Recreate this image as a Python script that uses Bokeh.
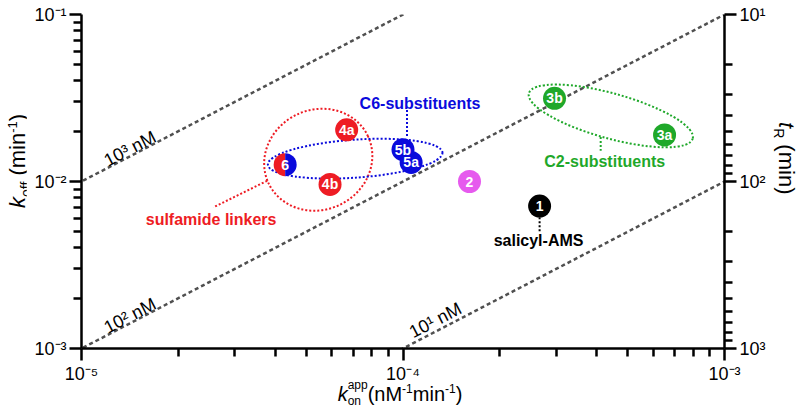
import math
from bokeh.plotting import figure
from bokeh.layouts import row, column
from bokeh.models import (Range1d, LogScale, LogAxis, FixedTicker, Div,
                          CustomJSTickFormatter, Label, ColumnDataSource)
from bokeh.core.properties import value
from bokeh.embed import file_html
from bokeh.resources import INLINE

# ---------------- data ----------------
compounds = ["1", "2", "3a", "3b", "4a", "4b", "5b", "5a", "6"]
kon_app = [2.66e-4, 1.61e-4, 6.51e-4, 2.96e-4, 6.68e-5, 5.93e-5, 1.00e-4, 1.06e-4, 4.30e-5]
koff = [7.13e-3, 1.00e-2, 1.90e-2, 3.15e-2, 2.04e-2, 9.6e-3, 1.55e-2, 1.30e-2, 1.26e-2]
point_colors = ["#000000", "#E65AEE", "#1FA82A", "#1FA82A", "#EE1C24", "#EE1C24",
                "#0A0ADC", "#0A0ADC", "split"]

kd_values = [1000, 100, 10]                       # nM iso-affinity lines
kd_labels = ["10³ nM", "10² nM", "10¹ nM"]
kd_label_kon = [1.21e-5, 1.21e-5, 1.09e-4]

group_names = ["sulfamide linkers", "C6-substituents", "C2-substituents", "salicyl-AMS"]
group_colors = ["#EE1C24", "#0A0ADC", "#1FA82A", "#000000"]
group_label_kon = [2.53e-5, 1.13e-4, 4.24e-4, 2.64e-4]
group_label_koff = [5.94e-3, 2.95e-2, 1.31e-2, 4.46e-3]
conn_kon0 = [3.78e-5, 1.029e-4, 4.12e-4, 2.66e-4]
conn_koff0 = [1.01e-2, 2.68e-2, 1.85e-2, 6.11e-3]
conn_kon1 = [2.57e-5, 1.029e-4, 4.12e-4, 2.66e-4]
conn_koff1 = [7.0e-3, 1.85e-2, 1.53e-2, 5.04e-3]

ell_kon = [5.45e-5, 7.10e-5, 4.43e-4]
ell_koff = [1.35e-2, 1.37e-2, 2.47e-2]
ell_colors = ["#EE1C24", "#0A0ADC", "#1FA82A"]

x_major = [1e-5, 1e-4, 1e-3]
x_tick_labels = ["10⁻⁵", "10⁻⁴", "10⁻³"]
x_minor = [m * d for d in (1e-5, 1e-4) for m in range(2, 10)]
y_major = [1e-3, 1e-2, 1e-1]
y_tick_labels = ["10⁻³", "10⁻²", "10⁻¹"]
y_minor = [m * d for d in (1e-3, 1e-2) for m in range(2, 10)]
tr_major = [10, 100, 1000]
tr_tick_labels = ["10¹", "10²", "10³"]
tr_minor = [m * d for d in (10, 100) for m in range(2, 10)]

FONT = "Liberation Sans"

# ---------------- figure ----------------
p = figure(width=742, height=386, x_axis_type="log", y_axis_type="log",
           x_range=Range1d(1e-5, 1e-3), y_range=Range1d(1e-3, 1e-1),
           output_backend="svg", toolbar_location=None,
           min_border_left=55, min_border_right=43, min_border_top=14, min_border_bottom=36)
p.outline_line_color = None
p.grid.visible = False
p.background_fill_color = "white"

p.extra_y_ranges = {"tr": Range1d(start=1000, end=10)}
p.extra_y_scales = {"tr": LogScale()}
right_axis = LogAxis(y_range_name="tr")
p.add_layout(right_axis, "right")

fmt_code = """
let best = 0, bd = Infinity;
for (let i = 0; i < vals.length; i++) {
  const d = Math.abs(Math.log10(vals[i]) - Math.log10(tick));
  if (d < bd) { bd = d; best = i; }
}
return labs[best];
"""

def style_axis(ax, major, minor, labels):
    ax.ticker = FixedTicker(ticks=major, minor_ticks=minor)
    ax.formatter = CustomJSTickFormatter(args=dict(vals=major, labs=labels), code=fmt_code)
    ax.axis_line_width = 2.5
    ax.axis_line_color = "black"
    ax.major_tick_line_width = 2.5
    ax.minor_tick_line_width = 2.5
    ax.major_tick_line_color = "black"
    ax.minor_tick_line_color = "black"
    ax.major_tick_out = 12
    ax.major_tick_in = 0
    ax.minor_tick_out = 8
    ax.minor_tick_in = 0
    ax.major_label_text_font = FONT
    ax.major_label_text_font_size = "18px"
    ax.major_label_text_color = "black"
    ax.major_label_standoff = 3

style_axis(p.xaxis[0], x_major, x_minor, x_tick_labels)
style_axis(p.yaxis[0], y_major, y_minor, y_tick_labels)
style_axis(right_axis, tr_major, tr_minor, tr_tick_labels)

# ---------------- iso-affinity lines ----------------
line_angle = math.atan2(168, 322)
for kd, lab, lk, off in zip(kd_values, kd_labels, kd_label_kon, [6, 6, 9]):
    p.line([1e-6, 1e-2], [kd * 1e-6, kd * 1e-2], line_color="#505050",
           line_width=2.5, line_dash="4 3")
    p.add_layout(Label(x=lk, y=kd * lk, text=lab, angle=line_angle,
                       x_offset=-off / 2, y_offset=off, text_font=FONT, text_font_size="18px",
                       text_color="black", text_baseline="alphabetic", text_align="left"))

# ---------------- group ellipses & connectors ----------------
p.ellipse(x=ell_kon, y=ell_koff, width=[110, 175, 170], height=[100, 38, 45],
          angle=[0.45, 0.07, -0.27], width_units="screen", height_units="screen",
          fill_color=None, line_color=ell_colors, line_width=2, line_dash="2 2")
p.segment(x0=conn_kon0, y0=conn_koff0, x1=conn_kon1, y1=conn_koff1,
          line_color=group_colors, line_width=2, line_dash="2 2")
for name, col, gx, gy in zip(group_names, group_colors, group_label_kon, group_label_koff):
    p.add_layout(Label(x=gx, y=gy, text=name, text_align="center", text_baseline="middle",
                       text_font=FONT, text_font_style="bold", text_font_size="16px",
                       text_color=col))

# ---------------- compound markers ----------------
solid = [i for i, c in enumerate(point_colors) if c != "split"]
src = ColumnDataSource(dict(x=[kon_app[i] for i in solid], y=[koff[i] for i in solid],
                            c=[point_colors[i] for i in solid]))
p.scatter("x", "y", source=src, size=23, fill_color="c", line_color=None)
for i, c in enumerate(point_colors):
    if c == "split":
        p.wedge(x=[kon_app[i]], y=[koff[i]], radius=11.5, radius_units="screen",
                start_angle=math.pi / 2, end_angle=3 * math.pi / 2,
                fill_color="#EE1C24", line_color=None)
        p.wedge(x=[kon_app[i]], y=[koff[i]], radius=11.5, radius_units="screen",
                start_angle=-math.pi / 2, end_angle=math.pi / 2,
                fill_color="#0A0ADC", line_color=None)
p.text(x=kon_app, y=koff, text=compounds, text_color="white",
       text_font=value(FONT), text_font_style="bold", text_font_size="14px",
       text_align="center", text_baseline="middle")

# ---------------- axis titles as HTML ----------------
base = ("font-family:'Liberation Sans',Arial,sans-serif; font-size:20px; "
        "line-height:22px; color:black; white-space:nowrap; width:max-content;")
vbase = ("font-family:'Liberation Sans',Arial,sans-serif; font-size:22px; "
         "line-height:24px; color:black; white-space:nowrap; width:max-content;")
left_html = ('<div style="%s transform:rotate(-90deg); transform-origin:0 0; '
             'margin-top:208px; margin-left:1px;"><i>k</i>'
             '<sub style="font-size:14px">off</sub> (min<sup style="font-size:13px">-1</sup>)</div>'
             % vbase)
right_html = ('<div style="%s transform:rotate(90deg); transform-origin:0 0; '
              'margin-top:122px; margin-left:30px;"><i>t</i>'
              '<sub style="font-size:14px">R</sub> (min)</div>' % vbase)
bottom_html = ('<div style="%s margin:0 auto; position:relative; top:-9px;"><i>k</i>'
               '<span style="display:inline-block; font-size:12px; line-height:16px; '
               'vertical-align:-4px; text-align:left;">app<br>on</span>'
               '(nM<sup style="font-size:12px">-1</sup>min<sup style="font-size:12px">-1</sup>)</div>'
               % base)

left_div = Div(text=left_html, width=26, height=386, margin=0)
right_div = Div(text=right_html, width=32, height=386, margin=0)
bottom_div = Div(text=bottom_html, width=800, height=27, margin=0,
                 styles={"text-align": "center"})

layout = column(row(left_div, p, right_div, spacing=0), bottom_div, spacing=0)

open("out.html", "w").write(file_html(layout, INLINE))
